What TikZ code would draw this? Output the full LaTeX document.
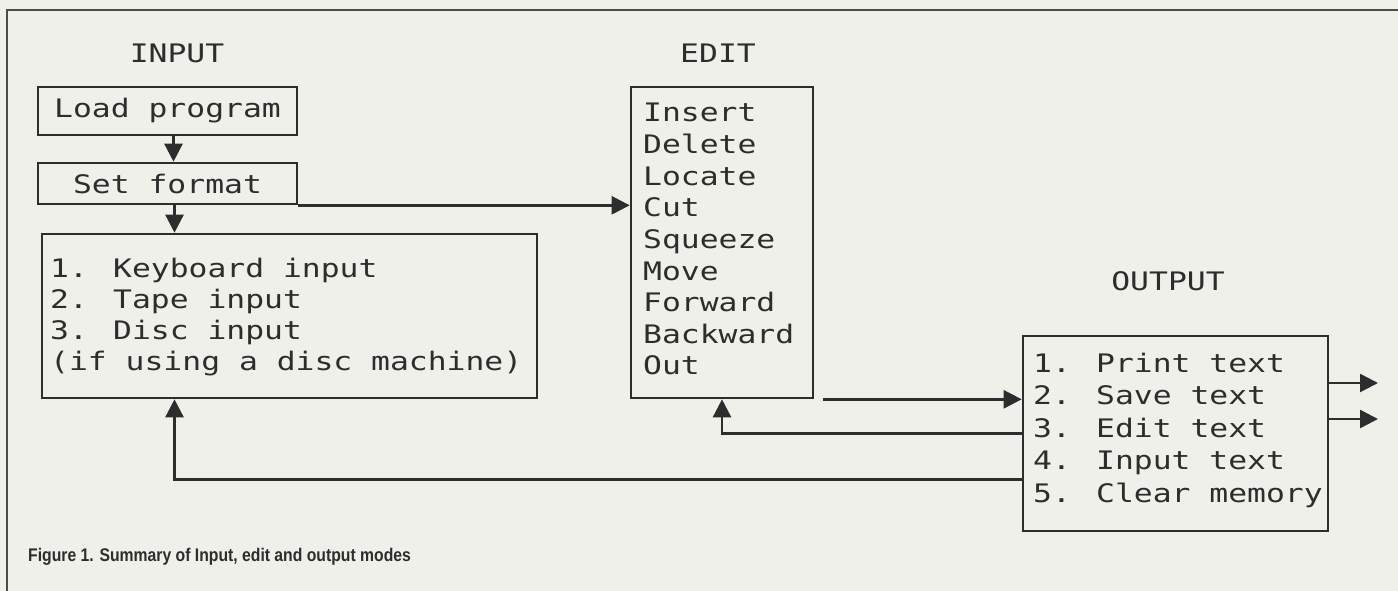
\documentclass[tikz,border=0pt]{standalone}
\usepackage{fontspec}
\setmainfont{Liberation Sans}
\newfontfamily\dotmono[FakeStretch=1.23]{DejaVu Sans Mono}
\newfontfamily\capfont[FakeStretch=0.86]{Liberation Sans}
\usetikzlibrary{arrows.meta,calc}
\definecolor{paper}{RGB}{240,240,234}
\definecolor{ink}{RGB}{45,45,45}
\begin{document}
\begin{tikzpicture}[x=1pt,y=-1pt,
  box/.style={draw=ink, line width=2.6pt, inner sep=0pt, anchor=center, text=ink,
    font=\dotmono\fontsize{25.5}{31.6}\selectfont},
  mtxt/.style={text=ink, font=\dotmono\fontsize{25.5}{31.6}\selectfont, inner sep=0pt, anchor=base west},
  ttl/.style={text=ink, font=\dotmono\fontsize{25.5}{31.6}\selectfont, inner sep=0pt, anchor=base},
  arr/.style={draw=ink, line width=2.5pt, -{Triangle[length=18pt,width=18pt]}}]
\fill[paper] (0,0) rectangle (1398,591);
\useasboundingbox (0,0) rectangle (1398,591);
\draw[ink!85, line width=2pt] (1398,10) -- (7,10) -- (7,591);

% titles
\node[ttl] (tin) at (177,63) {INPUT};
\node[ttl] (ted) at (718,63) {EDIT};
\node[ttl] (tout) at (1168,290) {OUTPUT};

% boxes
\node[box, minimum width=259pt, minimum height=48pt] (load) at (167.5,111) {Load program};
\node[box, minimum width=259pt, minimum height=41pt] (set) at (167.5,183.5) {Set format};
\node[box, minimum width=495pt, minimum height=164pt] (inbox) at (289.5,316) {};
\node[box, minimum width=182pt, minimum height=311pt] (edit) at (722,242.5) {};
\node[box, minimum width=305pt, minimum height=195pt] (out) at (1175.5,433.5) {};

% box texts
\foreach \t [count=\i from 0] in {{1. Keyboard input},{2. Tape input},{3. Disc input},{(if using a disc machine)}}
  \node[mtxt] (in\i) at (50,277+31.3*\i) {\t};
\foreach \t [count=\i from 0] in {Insert,Delete,Locate,Cut,Squeeze,Move,Forward,Backward,Out}
  \node[mtxt] (ed\i) at (643,122+31.6*\i) {\t};
\foreach \t [count=\i from 0] in {{1. Print text},{2. Save text},{3. Edit text},{4. Input text},{5. Clear memory}}
  \node[mtxt] (ou\i) at (1033,372+32.5*\i) {\t};

% connectors
\draw[arr] ($(load.south)+(6,0)$) -- ($(set.north)+(6,0)$);
\draw[arr] ($(set.south)+(7,0)$) -- ($(set.south|-inbox.north)+(7,0)$);
\draw[arr] (set.south east) -- (set.south east -| edit.west);
\draw[arr] ($(edit.south east)+(9,0)$) -- (edit.south east -| out.west);
\draw[arr] (out.west) -| (edit.south);
\draw[arr] ($(out.south west)+(0,-53)$) -| ($(set.south|-inbox.south)+(7,0)$);
\coordinate (o1) at (1378,383);
\coordinate (o2) at (1378,419);
\draw[arr] (out.east|-o1) -- (o1);
\draw[arr] (out.east|-o2) -- (o2);

% caption
\node[anchor=base west, font=\capfont\bfseries\fontsize{18.3}{21}\selectfont, text=ink, inner sep=0pt] (cap) at (28,561) {Figure 1. Summary of Input, edit and output modes};
\end{tikzpicture}
\end{document}
